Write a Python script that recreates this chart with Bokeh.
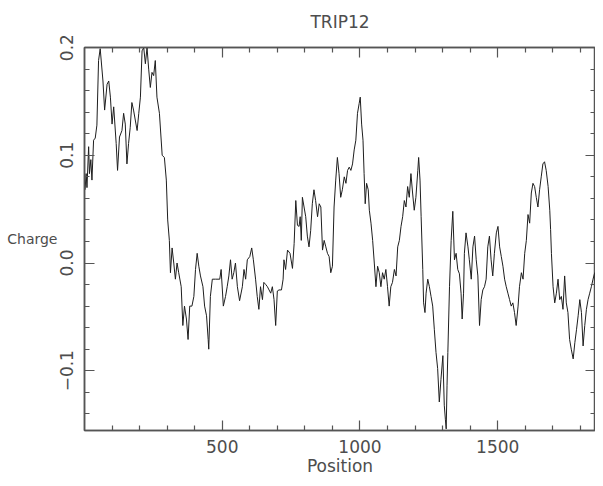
from bokeh.plotting import figure
from bokeh.models import Range1d, LinearAxis, FixedTicker, Label
from bokeh.embed import file_html
from bokeh.resources import INLINE

# ---- data ----
position = [2, 6, 9, 15, 18, 23, 27, 33, 39, 45, 51, 57, 67, 73, 82, 88, 94, 100, 106, 115,
            120, 127, 136, 142, 148, 154, 160, 166, 172, 178, 191, 197, 203, 209, 215, 221, 227, 233, 239, 245,
            251, 257, 263, 272, 282, 290, 297, 302, 308, 312, 318, 324, 330, 336, 342, 351, 357, 363, 370, 376,
            382, 390, 397, 403, 409, 415, 421, 430, 436, 443, 449, 451, 457, 464, 476, 491, 496, 504, 512, 518,
            524, 530, 536, 542, 548, 555, 563, 573, 579, 585, 591, 600, 607, 613, 621, 627, 633, 639, 646, 651,
            658, 664, 670, 676, 682, 688, 694, 700, 706, 715, 721, 724, 730, 737, 746, 755, 761, 767, 773, 779,
            783, 787, 791, 797, 803, 809, 815, 821, 827, 833, 839, 846, 852, 858, 864, 870, 876, 882, 888, 894,
            900, 906, 912, 918, 924, 930, 936, 943, 949, 955, 961, 967, 973, 979, 985, 991, 997, 1001, 1006, 1011,
            1015, 1019, 1024, 1030, 1034, 1040, 1046, 1052, 1058, 1064, 1070, 1076, 1082, 1088, 1094, 1100, 1106, 1112, 1118, 1125,
            1131, 1137, 1143, 1149, 1155, 1161, 1167, 1173, 1179, 1185, 1191, 1197, 1203, 1210, 1213, 1218, 1222, 1228, 1231, 1236,
            1240, 1246, 1252, 1258, 1264, 1270, 1276, 1282, 1288, 1294, 1301, 1306, 1310, 1313, 1316, 1319, 1325, 1331, 1337, 1343,
            1349, 1355, 1361, 1367, 1371, 1376, 1379, 1385, 1392, 1397, 1404, 1410, 1416, 1422, 1428, 1434, 1440, 1446, 1452, 1458,
            1464, 1470, 1476, 1482, 1488, 1495, 1501, 1507, 1513, 1519, 1525, 1531, 1537, 1543, 1549, 1555, 1561, 1567, 1574, 1579,
            1586, 1592, 1598, 1604, 1610, 1616, 1622, 1628, 1634, 1640, 1646, 1652, 1658, 1664, 1670, 1676, 1683, 1689, 1692, 1695,
            1701, 1707, 1713, 1719, 1725, 1731, 1737, 1743, 1749, 1755, 1761, 1767, 1774, 1780, 1786, 1792, 1798, 1804, 1810, 1816,
            1822, 1828, 1834, 1840, 1846, 1852, 1858, 1864, 1870, 1876, 1882, 1888]

charge = [0.068, 0.083, 0.070, 0.108, 0.083, 0.096, 0.077, 0.114, 0.116, 0.128, 0.188, 0.199, 0.169, 0.142, 0.166, 0.169, 0.154, 0.129, 0.145, 0.111,
          0.086, 0.117, 0.123, 0.139, 0.129, 0.092, 0.111, 0.126, 0.149, 0.142, 0.123, 0.139, 0.154, 0.197, 0.200, 0.185, 0.200, 0.180, 0.163, 0.177,
          0.174, 0.188, 0.154, 0.139, 0.100, 0.098, 0.077, 0.040, 0.021, -0.009, 0.014, 0.000, -0.015, 0.000, -0.009, -0.022, -0.058, -0.040, -0.052, -0.071,
          -0.040, -0.040, -0.031, -0.006, 0.009, -0.003, -0.012, -0.022, -0.040, -0.049, -0.071, -0.080, -0.031, -0.015, -0.015, -0.015, -0.006, -0.040, -0.031, -0.022,
          -0.012, 0.003, -0.015, -0.009, 0.000, -0.022, -0.035, -0.022, -0.006, -0.015, 0.003, 0.006, 0.014, 0.003, -0.015, -0.031, -0.043, -0.022, -0.034, -0.018,
          -0.020, -0.022, -0.025, -0.028, -0.022, -0.034, -0.058, -0.026, -0.025, -0.025, -0.015, 0.003, -0.006, 0.012, 0.009, -0.005, 0.018, 0.058, 0.035, 0.034,
          0.043, 0.021, 0.061, 0.052, 0.043, 0.025, 0.015, 0.030, 0.055, 0.068, 0.058, 0.043, 0.055, 0.052, 0.012, 0.021, 0.015, 0.009, 0.006, -0.009,
          -0.003, 0.052, 0.077, 0.098, 0.083, 0.061, 0.068, 0.080, 0.074, 0.086, 0.089, 0.086, 0.092, 0.105, 0.114, 0.139, 0.148, 0.154, 0.129, 0.114,
          0.083, 0.055, 0.074, 0.068, 0.049, 0.037, 0.021, 0.000, -0.022, -0.003, -0.009, -0.022, -0.009, -0.015, -0.006, -0.022, -0.040, -0.022, -0.018, -0.006,
          -0.012, 0.015, 0.021, 0.034, 0.043, 0.058, 0.052, 0.071, 0.061, 0.083, 0.065, 0.049, 0.061, 0.086, 0.098, 0.077, 0.043, -0.006, -0.037, -0.046,
          -0.028, -0.015, -0.022, -0.031, -0.040, -0.062, -0.083, -0.098, -0.129, -0.108, -0.086, -0.132, -0.145, -0.154, -0.114, -0.083, -0.022, 0.021, 0.048, 0.003,
          0.009, -0.006, -0.010, -0.028, -0.052, -0.028, 0.009, 0.028, 0.015, 0.003, -0.015, 0.015, 0.025, 0.003, -0.012, -0.058, -0.034, -0.025, -0.022, -0.015,
          0.015, 0.025, 0.003, -0.012, 0.009, 0.028, 0.034, 0.015, 0.006, -0.003, -0.015, -0.022, -0.028, -0.034, -0.040, -0.037, -0.046, -0.058, -0.040, -0.022,
          -0.009, -0.015, 0.009, 0.021, 0.045, 0.037, 0.065, 0.074, 0.071, 0.061, 0.052, 0.068, 0.080, 0.092, 0.094, 0.086, 0.071, 0.049, 0.031, 0.009,
          -0.022, -0.037, -0.028, -0.015, -0.034, -0.031, -0.043, -0.012, -0.037, -0.046, -0.071, -0.080, -0.089, -0.074, -0.062, -0.049, -0.034, -0.046, -0.077, -0.058,
          -0.043, -0.034, -0.028, -0.022, -0.015, -0.009, -0.040, 0.000, -0.009, 0.006, 0.000, 0.009]

x_major_ticks = [500, 1000, 1500]
x_minor_ticks = [100, 200, 300, 400, 600, 700, 800, 900, 1100, 1200, 1300, 1400, 1600, 1700, 1800]
x_tick_labels = ["500", "1000", "1500"]
y_major_ticks = [-0.1, 0.0, 0.1, 0.2]
y_minor_ticks = [-0.14, -0.12, -0.08, -0.06, -0.04, -0.02, 0.02, 0.04, 0.06, 0.08, 0.12, 0.14, 0.16, 0.18]
y_tick_labels = ["\u22120.1", "0.0", "0.1", "0.2"]

title_text = "TRIP12"
x_title = "Position"
y_title = "Charge"

# ---- styling ----
FONT = "DejaVu Sans"
TXT = "#4d4d4d"
AX = "#555555"
FS = "17px"

p = figure(width=595, height=478,
           x_range=Range1d(0, 1855), y_range=Range1d(-0.1555, 0.2001),
           output_backend="svg", toolbar_location=None,
           min_border_left=84, min_border_right=0, min_border_top=47, min_border_bottom=46)
p.grid.visible = False
p.outline_line_color = AX
p.outline_line_width = 1.5
p.background_fill_color = "white"
p.border_fill_color = "white"

p.line(position, charge, line_color="#1e1e1e", line_width=1)


def style_axis(ax, major, minor, labels, show_labels):
    ax.ticker = FixedTicker(ticks=major, minor_ticks=minor)
    ax.axis_line_color = AX
    ax.axis_line_width = 1.5
    ax.major_tick_line_color = AX
    ax.minor_tick_line_color = AX
    ax.major_tick_line_width = 1.2
    ax.minor_tick_line_width = 1.2
    ax.major_tick_in = 10
    ax.major_tick_out = 0
    ax.minor_tick_in = 5
    ax.minor_tick_out = 0
    if show_labels:
        ax.major_label_overrides = dict(zip(major, labels))
        ax.major_label_text_font = FONT
        ax.major_label_text_font_size = FS
        ax.major_label_text_color = TXT
    else:
        # tick marks only, no labels on the mirrored axes
        ax.major_label_text_font_size = "1px"
        ax.major_label_text_color = None
        ax.major_label_standoff = 0


xa = p.xaxis[0]
style_axis(xa, x_major_ticks, x_minor_ticks, x_tick_labels, True)
xa.major_label_standoff = 9
xa.axis_label = x_title
xa.axis_label_text_font = FONT
xa.axis_label_text_font_size = FS
xa.axis_label_text_font_style = "normal"
xa.axis_label_text_color = TXT
xa.axis_label_standoff = 0

ya = p.yaxis[0]
style_axis(ya, y_major_ticks, y_minor_ticks, y_tick_labels, True)
ya.major_label_orientation = "vertical"
ya.major_label_standoff = 11

if "axis_label_orientation" in ya.properties():
    ya.axis_label = y_title
    ya.axis_label_orientation = "horizontal"
    ya.axis_label_text_font = FONT
    ya.axis_label_text_font_size = "14px"
    ya.axis_label_text_font_style = "normal"
    ya.axis_label_text_color = TXT
    ya.axis_label_standoff = 0
else:
    p.add_layout(Label(x=-50, y=190, x_units="screen", y_units="screen", text=y_title,
                       text_align="center", text_baseline="middle",
                       text_font=FONT, text_font_size="14px", text_color=TXT))

# top axis: tick marks only, with the chart title as its label
top = LinearAxis()
style_axis(top, x_major_ticks, x_minor_ticks, x_tick_labels, False)
top.axis_label = title_text
top.axis_label_text_font = FONT
top.axis_label_text_font_size = FS
top.axis_label_text_font_style = "normal"
top.axis_label_text_color = TXT
top.axis_label_standoff = 16
p.add_layout(top, "above")

right = LinearAxis()
style_axis(right, y_major_ticks, y_minor_ticks, y_tick_labels, False)
p.add_layout(right, "right")

open("out.html", "w").write(file_html(p, INLINE))
